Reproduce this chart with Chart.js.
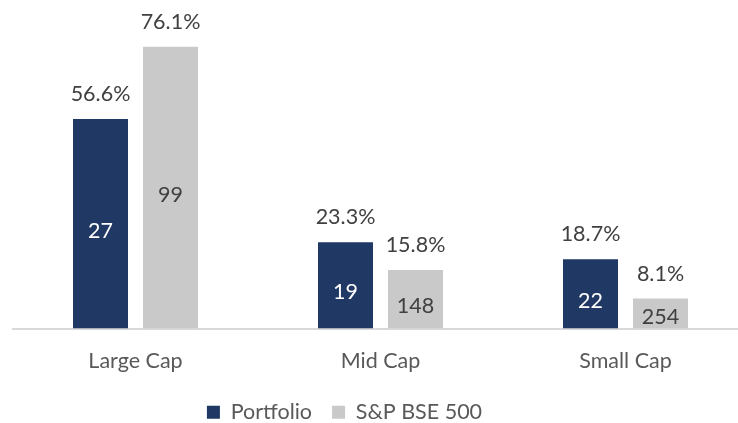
<!DOCTYPE html>
<html>
<head>
<meta charset="utf-8">
<script src="https://cdn.jsdelivr.net/npm/chart.js@4/dist/chart.umd.min.js"></script>
<style>
  html, body { margin: 0; padding: 0; overflow: hidden; background: #ffffff; width: 738px; height: 423px; }
  canvas { display: block; }
</style>
</head>
<body>
<canvas id="c" width="750" height="433"></canvas>
<script>
const categories = ["Large Cap", "Mid Cap", "Small Cap"];
const seriesNames = ["Portfolio", "S&P BSE 500"];
const portfolioPct = [56.6, 23.3, 18.7];
const benchmarkPct = [76.1, 15.8, 8.1];
const portfolioCount = [27, 19, 22];
const benchmarkCount = [99, 148, 254];

const FONT = "Lato, 'Open Sans', sans-serif";
const FS = 21.5;
const NAVY = "#203864";
const GREY = "#C9C9C9";

const labelPlugin = {
  id: "barLabels",
  afterDatasetsDraw(chart) {
    const ctx = chart.ctx;
    ctx.save();
    ctx.font = FS + "px " + FONT;
    ctx.textAlign = "center";
    chart.data.datasets.forEach((ds, di) => {
      const meta = chart.getDatasetMeta(di);
      meta.data.forEach((bar, i) => {
        const pct = ds.data[i];
        const cnt = ds.counts[i];
        ctx.fillStyle = "#404040";
        ctx.textBaseline = "alphabetic";
        ctx.fillText(pct.toFixed(1) + "%", bar.x, bar.y - 18);
        let y = (bar.y + bar.base) / 2 + 7;
        if (y + 8 > bar.base - 3) y = bar.base - 11;
        ctx.fillStyle = ds.innerColor;
        ctx.textBaseline = "middle";
        ctx.fillText(String(cnt), bar.x, y);
      });
    });
    ctx.restore();
  }
};

const legendShift = {
  id: "legendShift",
  afterLayout(chart) {
    if (chart.legend) {
      chart.legend.left -= 36;
      chart.legend.right -= 36;
    }
  }
};

new Chart(document.getElementById("c"), {
  type: "bar",
  data: {
    labels: categories,
    datasets: [
      { label: seriesNames[0], data: portfolioPct, counts: portfolioCount, innerColor: "#ffffff",
        backgroundColor: NAVY, borderWidth: 0 },
      { label: seriesNames[1], data: benchmarkPct, counts: benchmarkCount, innerColor: "#404040",
        backgroundColor: GREY, borderWidth: 0 }
    ]
  },
  options: {
    responsive: false,
    devicePixelRatio: 1,
    animation: false,
    datasets: { bar: { categoryPercentage: 140 / 245, barPercentage: 55 / 70 } },
    layout: { padding: { left: 13, right: 2, top: 10, bottom: 0 } },
    plugins: {
      tooltip: { enabled: false },
      legend: {
        position: "bottom",
        labels: {
          font: { family: FONT, size: FS },
          color: "#595959",
          boxWidth: 13,
          boxHeight: 13,
          padding: 20
        }
      }
    },
    scales: {
      x: {
        grid: { display: false, drawTicks: false },
        border: { display: true, color: "#D9D9D9", width: 2 },
        ticks: { font: { family: FONT, size: FS }, color: "#595959", padding: 20 },
        afterFit(scale) { scale.height = 53; }
      },
      y: {
        display: false,
        min: 0,
        max: 86
      }
    }
  },
  plugins: [labelPlugin, legendShift]
});
</script>
</body>
</html>
